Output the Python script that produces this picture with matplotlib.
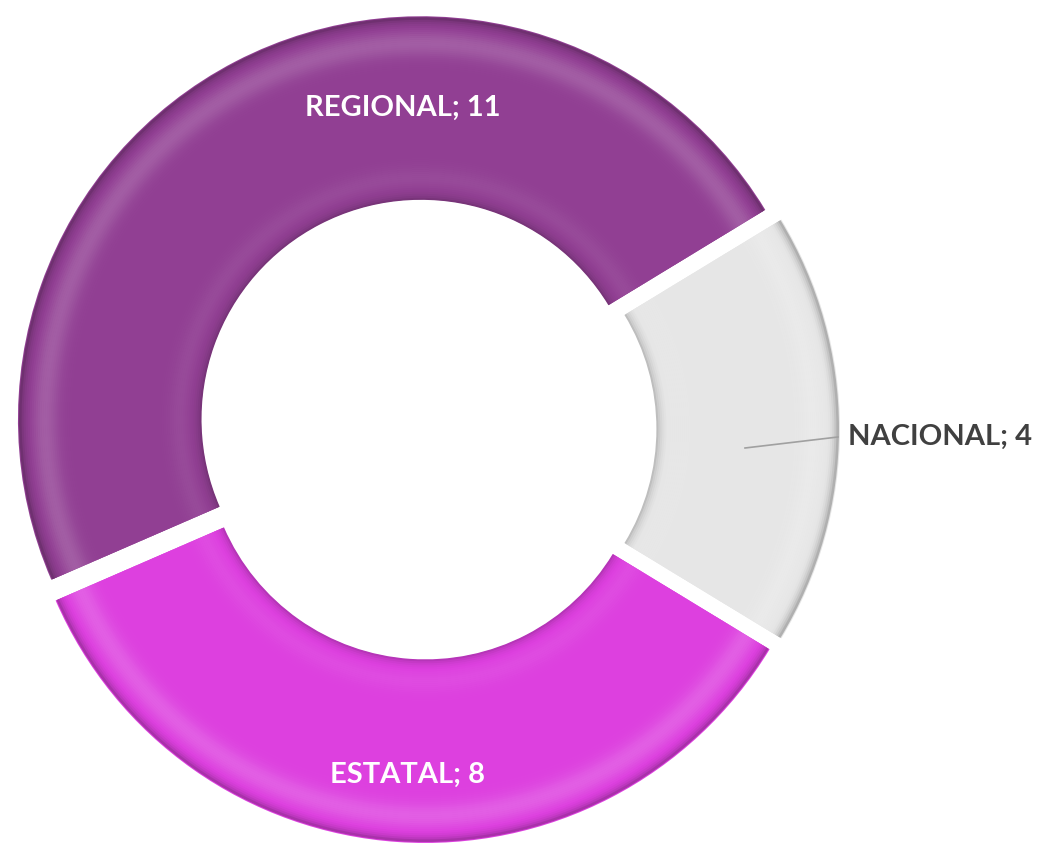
import matplotlib
matplotlib.use("Agg")
import matplotlib.pyplot as plt
from matplotlib.patches import Wedge
from matplotlib.colors import to_rgb
import numpy as np

labels = ["REGIONAL", "NACIONAL", "ESTATAL"]
values = [11, 4, 8]
colors = ["#913F93", "#E6E6E6", "#DD40DF"]
text_colors = ["white", "#404040", "white"]

W, H = 1044, 857
fig = plt.figure(figsize=(W / 100, H / 100), dpi=100)
ax = fig.add_axes([0, 0, 1, 1])

cx, cy = 426, H - 429
R = 403
ring = 183
total = sum(values)
start = 360 * (values[0] + values[1] / 2) / total

wedges, _ = ax.pie(values, colors=colors, radius=R, center=(cx, cy),
                   startangle=start, counterclock=False,
                   explode=[11, 11, 11],
                   wedgeprops=dict(width=ring, linewidth=0),
                   frame=True)
ax.set_xlim(0, W)
ax.set_ylim(0, H)
ax.set_aspect("equal")
ax.axis("off")


def shade(rgb, k):
    rgb = np.array(rgb)
    if k >= 0:
        return tuple(rgb + (1 - rgb) * k)
    return tuple(rgb * (1 + k))


# smooth soft-round bevel across the ring width
step = 2
n = ring // step
for w, base in zip(wedges, colors):
    c = w.center
    t1, t2 = w.theta1, w.theta2
    rgb = to_rgb(base)
    for i in range(n):
        t = (i + 0.5) / n  # 0 inner, 1 outer
        k = 0.0
        k += 0.16 * np.exp(-((t - 0.86) / 0.07) ** 2)
        k += 0.06 * np.exp(-((t - 0.12) / 0.06) ** 2)
        k -= 0.30 * np.exp(-((1 - t) / 0.025))
        k -= 0.22 * np.exp(-(t / 0.025))
        r_out = R - ring + (i + 1) * step
        ax.add_patch(Wedge(c, r_out, t1, t2, width=step + 0.6,
                           facecolor=shade(rgb, k), edgecolor="none",
                           zorder=2))

font = dict(family=["Lato", "DejaVu Sans"], fontweight="bold", fontsize=21)
ax.text(403, H - 108, f"{labels[0]}; {values[0]}", color=text_colors[0],
        ha="center", va="center", zorder=5, **font)
ax.text(408, H - 775, f"{labels[2]}; {values[2]}", color=text_colors[2],
        ha="center", va="center", zorder=5, **font)
ax.plot([745, 838], [H - 448, H - 437], color="#A0A0A0", lw=1.2, zorder=5)
ax.text(848, H - 437, f"{labels[1]}; {values[1]}", color=text_colors[1],
        ha="left", va="center", zorder=5, **font)

fig.savefig("out.png", dpi=100, facecolor="white")
